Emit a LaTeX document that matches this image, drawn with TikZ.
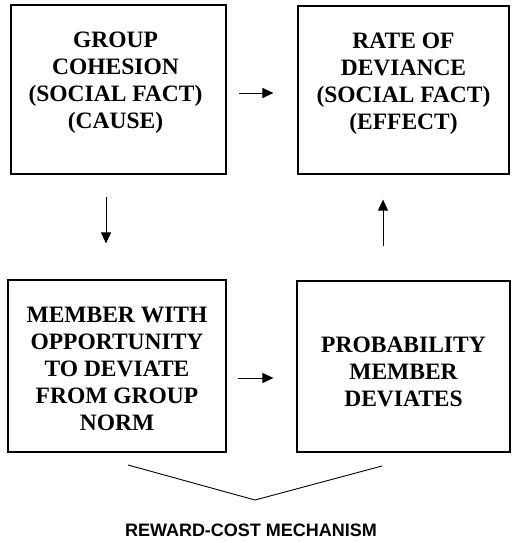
\documentclass[tikz,border=0pt]{standalone}
\usepackage{fontspec}
\setmainfont{Liberation Serif}
\setsansfont{Liberation Sans}
\usetikzlibrary{arrows.meta}
\begin{document}
\begin{tikzpicture}[x=1pt,y=-1pt,
  box/.style={draw, line width=1.2pt, inner sep=0pt},
  boxtext/.style={inner sep=0pt, align=center,
    font=\bfseries\fontsize{23.5}{27}\selectfont},
  arr/.style={line width=1pt, -{Triangle[length=11pt,width=10pt]}},
]
\useasboundingbox (0,0) rectangle (511,543);
\node[box, minimum width=215pt, minimum height=169pt] (tl) at (118.5,89.5) {};
\node[box, minimum width=211pt, minimum height=168pt] (tr) at (403.5,90) {};
\node[box, minimum width=218pt, minimum height=172pt] (bl) at (117,366) {};
\node[box, minimum width=213pt, minimum height=171pt] (br) at (403.5,366.5) {};
\node[boxtext] (tlt) at ([xshift=-3pt,yshift=6.5pt]tl.center)
  {GROUP\\COHESION\\(SOCIAL FACT)\\(CAUSE)};
\node[boxtext] (trt) at ([yshift=6.5pt]tr.center)
  {RATE OF\\DEVIANCE\\(SOCIAL FACT)\\(EFFECT)};
\node[boxtext] (blt) at ([yshift=-3pt]bl.center)
  {MEMBER WITH\\OPPORTUNITY\\TO DEVIATE\\FROM GROUP\\NORM};
\node[boxtext] (brt) at ([yshift=-5pt]br.center)
  {PROBABILITY\\MEMBER\\DEVIATES};
\draw[arr] ([xshift=12pt,yshift=-3.5pt]tl.east) -- ([xshift=-24pt,yshift=-3pt]tr.west);
\draw[arr] ([xshift=-12.5pt,yshift=-22pt]tl.south) -- ([xshift=-11pt,yshift=36pt]bl.north);
\draw[arr] ([xshift=-20.5pt,yshift=34pt]br.north) -- ([xshift=-20.5pt,yshift=-25pt]tr.south);
\draw[arr] ([xshift=11pt,yshift=-12pt]bl.east) -- ([xshift=-23pt,yshift=-11.5pt]br.west);
\coordinate (vl) at (128,465);
\coordinate (va) at (255,500);
\coordinate (vr) at (382,466);
\draw[line width=0.9pt] (vl) -- (va) -- (vr);
\node[font=\sffamily\bfseries\fontsize{18}{20}\selectfont] (rc) at (251,530) {REWARD-COST MECHANISM};
\end{tikzpicture}
\end{document}
